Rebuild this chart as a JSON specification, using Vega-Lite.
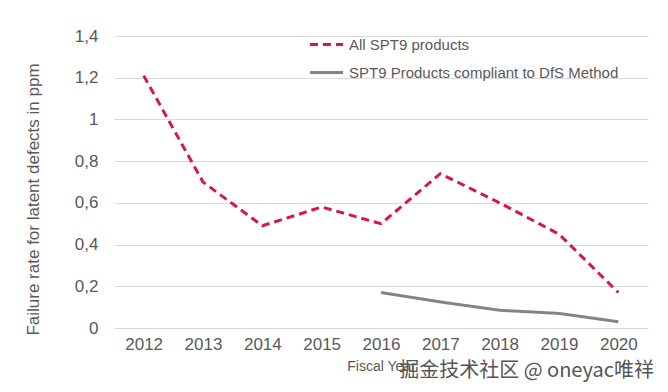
{
  "$schema": "https://vega.github.io/schema/vega-lite/v6.json",
  "autosize": {"type": "none"},
  "width": 534,
  "height": 292,
  "padding": {"left": 114, "top": 36, "right": 20, "bottom": 64},
  "background": "white",
  "config": {
    "font": "Liberation Sans",
    "view": {"stroke": null}
  },
  "title": {
    "text": "掘金技术社区 @ oneyac唯祥",
    "orient": "bottom",
    "anchor": "end",
    "fontSize": 20,
    "fontWeight": "normal",
    "color": "#555555",
    "font": "Noto Sans CJK SC",
    "offset": -12,
    "dx": 6
  },
  "data": {
    "values": [
      {"year": "2012", "series": "All SPT9 products", "value": 1.21},
      {"year": "2013", "series": "All SPT9 products", "value": 0.70},
      {"year": "2014", "series": "All SPT9 products", "value": 0.49},
      {"year": "2015", "series": "All SPT9 products", "value": 0.58},
      {"year": "2016", "series": "All SPT9 products", "value": 0.50},
      {"year": "2017", "series": "All SPT9 products", "value": 0.74},
      {"year": "2018", "series": "All SPT9 products", "value": 0.60},
      {"year": "2019", "series": "All SPT9 products", "value": 0.45},
      {"year": "2020", "series": "All SPT9 products", "value": 0.17},
      {"year": "2016", "series": "SPT9 Products compliant to DfS Method", "value": 0.17},
      {"year": "2017", "series": "SPT9 Products compliant to DfS Method", "value": 0.125},
      {"year": "2018", "series": "SPT9 Products compliant to DfS Method", "value": 0.085},
      {"year": "2019", "series": "SPT9 Products compliant to DfS Method", "value": 0.07},
      {"year": "2020", "series": "SPT9 Products compliant to DfS Method", "value": 0.03}
    ]
  },
  "mark": {"type": "line", "strokeWidth": 3},
  "encoding": {
    "x": {
      "field": "year",
      "type": "ordinal",
      "scale": {"type": "point", "padding": 0.5},
      "axis": {
        "title": "Fiscal Year",
        "titleFontSize": 14,
        "titleFontWeight": "normal",
        "titleColor": "#595959",
        "titlePadding": 7,
        "labelAngle": 0,
        "labelFontSize": 17,
        "labelColor": "#595959",
        "labelPadding": 8,
        "ticks": false,
        "domain": false
      }
    },
    "y": {
      "field": "value",
      "type": "quantitative",
      "scale": {"domain": [0, 1.4], "nice": false},
      "axis": {
        "title": "Failure rate for latent defects in ppm",
        "titleFontSize": 17,
        "titleFontWeight": "normal",
        "titleColor": "#595959",
        "titlePadding": 32,
        "titleY": 163,
        "values": [0, 0.2, 0.4, 0.6, 0.8, 1, 1.2, 1.4],
        "labelExpr": "replace(format(datum.value, '.1~f'), '.', ',')",
        "labelFontSize": 17,
        "labelColor": "#595959",
        "labelPadding": 16,
        "ticks": false,
        "domain": false,
        "grid": true,
        "gridColor": "#d9d9d9",
        "gridWidth": 1
      }
    },
    "color": {
      "field": "series",
      "type": "nominal",
      "scale": {
        "domain": ["All SPT9 products", "SPT9 Products compliant to DfS Method"],
        "range": ["#d6174b", "#8a8087"]
      },
      "legend": {
        "title": null,
        "orient": "none",
        "legendX": 194,
        "legendY": -10,
        "symbolType": "stroke",
        "symbolSize": 1100,
        "symbolStrokeWidth": 3,
        "labelFontSize": 15,
        "labelColor": "#595959",
        "labelOffset": 4,
        "rowPadding": 1,
        "labelLimit": 400
      }
    },
    "strokeDash": {
      "field": "series",
      "type": "nominal",
      "scale": {
        "domain": ["All SPT9 products", "SPT9 Products compliant to DfS Method"],
        "range": [[8, 5], [1, 0]]
      },
      "legend": {
        "title": null,
        "orient": "none",
        "legendX": 194,
        "legendY": -10,
        "symbolType": "stroke",
        "symbolSize": 1100,
        "symbolStrokeWidth": 3,
        "labelFontSize": 15,
        "labelColor": "#595959",
        "labelOffset": 4,
        "rowPadding": 1,
        "labelLimit": 400
      }
    }
  }
}
